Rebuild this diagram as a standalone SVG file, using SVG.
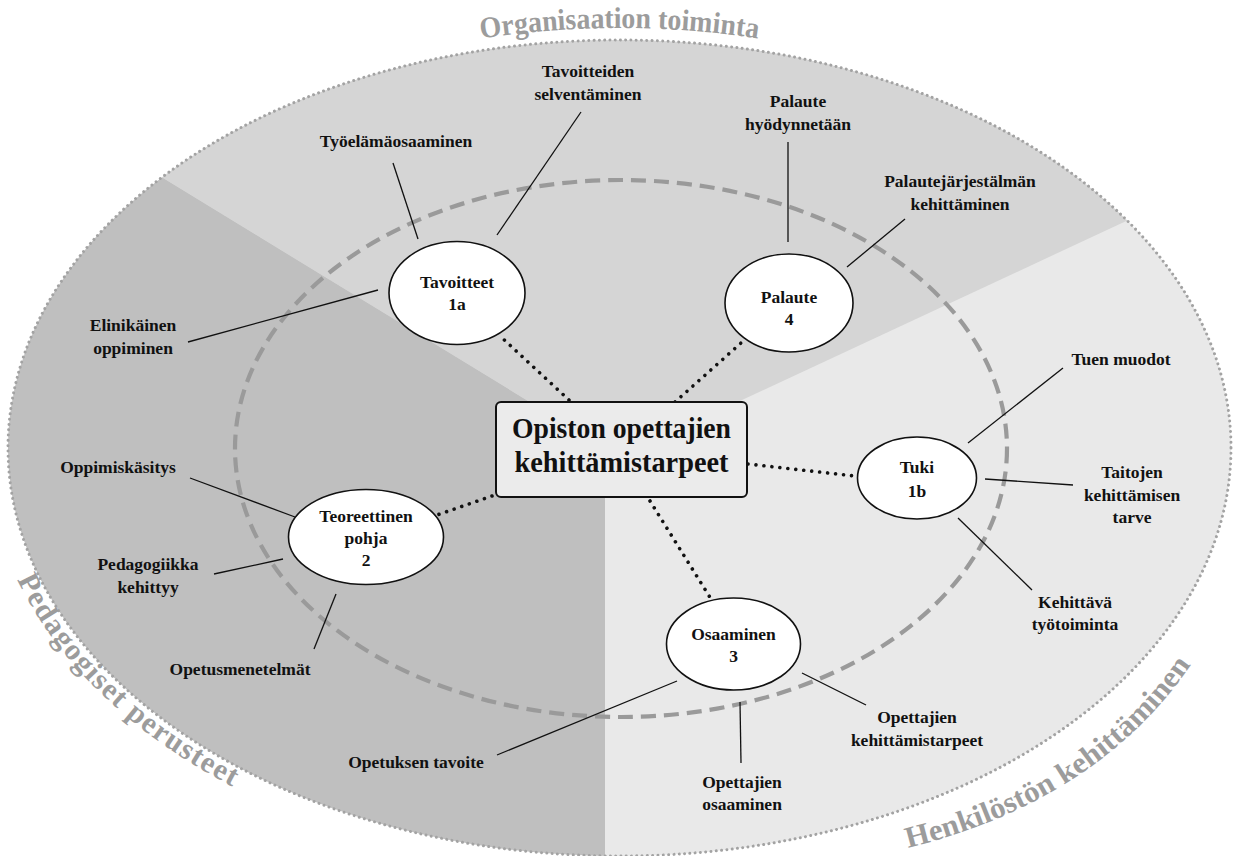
<svg xmlns="http://www.w3.org/2000/svg" width="1238" height="856" viewBox="0 0 1238 856">
<defs>
<style>
.lbl{font-family:"Liberation Serif","DejaVu Serif",serif;font-weight:bold;font-size:17.5px;fill:#111;text-anchor:middle}
.node{fill:#fff;stroke:#111;stroke-width:1.6}
.lead{stroke:#111;stroke-width:1.3;fill:none}
.dot{stroke:#111;stroke-width:3.6;stroke-dasharray:0.01 8;stroke-linecap:round;fill:none}
.area{font-family:"Liberation Serif","DejaVu Serif",serif;font-weight:bold;font-size:30px;fill:#9c9c9c}
</style>
<clipPath id="outerClip"><ellipse cx="619.5" cy="448" rx="611.5" ry="408"/></clipPath>
<path id="topArc" d="M -4 448 A 623.5 420 0 0 1 1243 448"/>
<path id="pedArc" d="M -13.5 448 A 633 428 0 0 0 1252.5 448"/>
<path id="henkArc" d="M 860 858 Q 1130 810 1228 600"/>
</defs>
<rect width="1238" height="856" fill="#fff"/>
<g id="sectors" clip-path="url(#outerClip)">
<rect x="0" y="0" width="1238" height="856" fill="#e9e9e9"/>
<polygon points="620,457 -50,48 -50,-10 1300,-10 1300,140" fill="#d5d5d5"/>
<polygon points="620,457 -50,48 -50,900 605,900 605,457" fill="#bfbfbf"/>
</g>
<ellipse id="outer" cx="619.5" cy="448" rx="611.5" ry="408" fill="none" stroke="#a3a3a3" stroke-width="3" stroke-dasharray="0.01 5.3" stroke-linecap="round"/>
<ellipse id="inner" cx="621" cy="448.5" rx="386" ry="268.5" fill="none" stroke="#9a9a9a" stroke-width="4.2" stroke-dasharray="15 8"/>
<g id="areaLabels">
<text class="area"><textPath href="#topArc" startOffset="50%" text-anchor="middle" textLength="278" lengthAdjust="spacingAndGlyphs">Organisaation toiminta</textPath></text>
<text class="area"><textPath href="#pedArc" startOffset="136" textLength="304" lengthAdjust="spacing">Pedagogiset perusteet</textPath></text>
<text class="area"><textPath href="#henkArc" startOffset="49" textLength="345" lengthAdjust="spacingAndGlyphs">Henkilöstön kehittäminen</textPath></text>
</g>
<g id="connectors">
<line class="dot" x1="569" y1="400" x2="499" y2="335"/>
<line class="dot" x1="675" y1="402" x2="741" y2="343"/>
<line class="dot" x1="492" y1="496" x2="437" y2="515"/>
<line class="dot" x1="748" y1="464" x2="855" y2="476"/>
<line class="dot" x1="650" y1="501" x2="711" y2="599"/>
<line class="lead" x1="393" y1="163" x2="418" y2="239"/>
<line class="lead" x1="581" y1="112" x2="497" y2="235"/>
<line class="lead" x1="188" y1="342" x2="378" y2="290"/>
<line class="lead" x1="788" y1="142" x2="788" y2="242"/>
<line class="lead" x1="905" y1="219" x2="847" y2="267"/>
<line class="lead" x1="190" y1="478" x2="295" y2="517"/>
<line class="lead" x1="214" y1="574" x2="283" y2="559"/>
<line class="lead" x1="336" y1="594" x2="314" y2="649"/>
<line class="lead" x1="968" y1="443" x2="1063" y2="368"/>
<line class="lead" x1="985" y1="479" x2="1073" y2="485"/>
<line class="lead" x1="958" y1="518" x2="1032" y2="590"/>
<line class="lead" x1="497" y1="755" x2="677" y2="681"/>
<line class="lead" x1="740" y1="702" x2="741" y2="763"/>
<line class="lead" x1="802" y1="673" x2="866" y2="705"/>
</g>
<g id="center">
<rect x="496" y="402" width="251" height="95" rx="5" fill="#ebebeb" stroke="#111" stroke-width="2"/>
<text class="lbl" x="621.5" y="438" style="font-size:29px" textLength="219" lengthAdjust="spacingAndGlyphs">Opiston opettajien</text>
<text class="lbl" x="621.5" y="472" style="font-size:29px" textLength="214" lengthAdjust="spacingAndGlyphs">kehittämistarpeet</text>
</g>
<g id="n-tavoitteet">
<ellipse class="node" cx="457" cy="293" rx="68" ry="51.5"/>
<text class="lbl" x="457" y="288">Tavoitteet</text>
<text class="lbl" x="457" y="310">1a</text>
</g>
<g id="n-palaute">
<ellipse class="node" cx="789" cy="303" rx="64" ry="49"/>
<text class="lbl" x="789" y="303">Palaute</text>
<text class="lbl" x="789" y="325">4</text>
</g>
<g id="n-teoreettinen">
<ellipse class="node" cx="366" cy="537" rx="77.5" ry="47.5"/>
<text class="lbl" x="366" y="522">Teoreettinen</text>
<text class="lbl" x="366" y="544">pohja</text>
<text class="lbl" x="366" y="566">2</text>
</g>
<g id="n-tuki">
<ellipse class="node" cx="917" cy="478" rx="59.5" ry="41"/>
<text class="lbl" x="917" y="473">Tuki</text>
<text class="lbl" x="917" y="497">1b</text>
</g>
<g id="n-osaaminen">
<ellipse class="node" cx="733.5" cy="644" rx="67" ry="46"/>
<text class="lbl" x="733.5" y="640">Osaaminen</text>
<text class="lbl" x="733.5" y="662">3</text>
</g>
<g id="labels">
<text class="lbl" x="396" y="147">Työelämäosaaminen</text>
<text class="lbl" x="588" y="77">Tavoitteiden</text>
<text class="lbl" x="588" y="100">selventäminen</text>
<text class="lbl" x="133" y="331">Elinikäinen</text>
<text class="lbl" x="133" y="354">oppiminen</text>
<text class="lbl" x="798" y="107">Palaute</text>
<text class="lbl" x="798" y="130">hyödynnetään</text>
<text class="lbl" x="960" y="187">Palautejärjestälmän</text>
<text class="lbl" x="960" y="210">kehittäminen</text>
<text class="lbl" x="1121" y="365">Tuen muodot</text>
<text class="lbl" x="1132" y="478">Taitojen</text>
<text class="lbl" x="1132" y="501">kehittämisen</text>
<text class="lbl" x="1132" y="523">tarve</text>
<text class="lbl" x="1075" y="608">Kehittävä</text>
<text class="lbl" x="1075" y="630">työtoiminta</text>
<text class="lbl" x="118" y="473">Oppimiskäsitys</text>
<text class="lbl" x="148" y="570">Pedagogiikka</text>
<text class="lbl" x="148" y="593">kehittyy</text>
<text class="lbl" x="240" y="675">Opetusmenetelmät</text>
<text class="lbl" x="416" y="768">Opetuksen tavoite</text>
<text class="lbl" x="742" y="788">Opettajien</text>
<text class="lbl" x="742" y="810">osaaminen</text>
<text class="lbl" x="917" y="723">Opettajien</text>
<text class="lbl" x="917" y="746">kehittämistarpeet</text>
</g>
</svg>
